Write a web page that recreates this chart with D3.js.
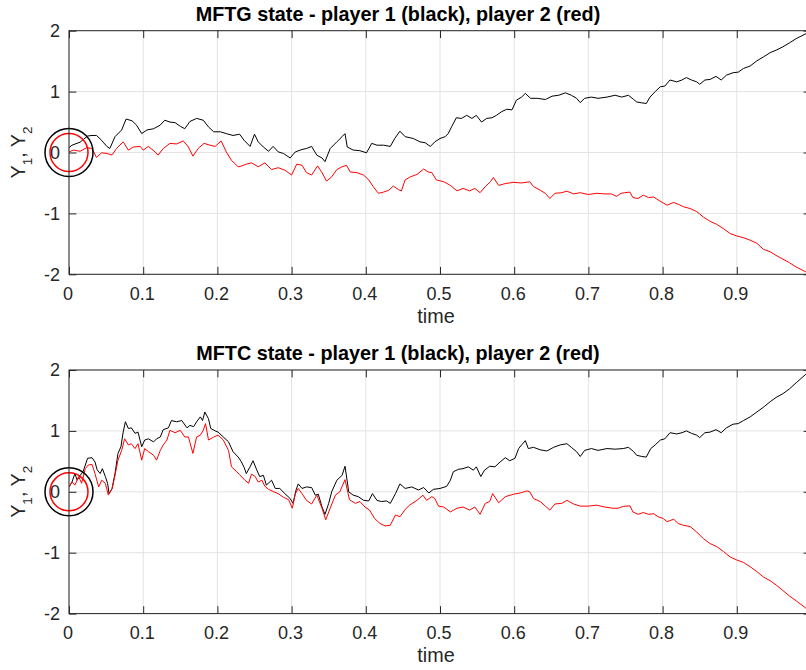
<!DOCTYPE html>
<html>
<head>
<meta charset="utf-8">
<script src="https://cdn.jsdelivr.net/npm/d3@7"></script>
<style>
  html, body { margin: 0; padding: 0; background: #fff; overflow: hidden; }
  svg { display: block; font-family: "Liberation Sans", Arial, Helvetica, sans-serif; }
</style>
</head>
<body>
<svg id="chart" width="806" height="670"></svg>
<script>
// State trajectories [time, value] for the two game settings
const mftgPlayer1 = [[0,0.08],[0.004,0.12],[0.015,0.17],[0.02,0.22],[0.025,0.27],[0.031,0.28],[0.037,0.28],[0.044,0.2],[0.046,0.17],[0.051,0.1],[0.055,0.065],[0.062,0.26],[0.071,0.37],[0.077,0.55],[0.085,0.52],[0.091,0.45],[0.098,0.31],[0.105,0.37],[0.114,0.39],[0.123,0.45],[0.129,0.53],[0.136,0.5],[0.143,0.49],[0.15,0.43],[0.156,0.39],[0.163,0.51],[0.172,0.56],[0.181,0.53],[0.188,0.42],[0.195,0.34],[0.204,0.34],[0.212,0.31],[0.221,0.28],[0.23,0.3],[0.236,0.2],[0.244,0.1],[0.25,0.3],[0.255,0.175],[0.262,0.09],[0.269,0.02],[0.275,0.1],[0.282,0.01],[0.289,-0.016],[0.298,-0.09],[0.305,0.01],[0.314,0.05],[0.32,0.065],[0.327,0.1],[0.334,-0.044],[0.341,-0.09],[0.345,-0.15],[0.352,0.065],[0.361,0.175],[0.368,0.26],[0.372,0.31],[0.375,0.09],[0.383,0.04],[0.392,0.03],[0.401,-0.005],[0.408,0.15],[0.415,0.12],[0.424,0.12],[0.433,0.1],[0.439,0.23],[0.446,0.35],[0.453,0.26],[0.464,0.23],[0.473,0.175],[0.48,0.16],[0.487,0.1],[0.493,0.175],[0.5,0.23],[0.507,0.26],[0.511,0.31],[0.516,0.43],[0.522,0.57],[0.529,0.56],[0.536,0.61],[0.543,0.56],[0.549,0.61],[0.556,0.5],[0.563,0.56],[0.57,0.57],[0.576,0.61],[0.583,0.67],[0.59,0.71],[0.597,0.7],[0.603,0.86],[0.61,0.91],[0.615,0.97],[0.622,0.89],[0.631,0.89],[0.642,0.87],[0.651,0.925],[0.66,0.94],[0.669,0.98],[0.677,0.94],[0.684,0.89],[0.689,0.82],[0.695,0.89],[0.704,0.91],[0.713,0.89],[0.725,0.91],[0.736,0.94],[0.745,0.91],[0.754,0.94],[0.761,0.87],[0.765,0.83],[0.772,0.815],[0.778,0.805],[0.783,0.91],[0.79,1.0],[0.797,1.08],[0.803,1.09],[0.81,1.19],[0.819,1.16],[0.826,1.19],[0.832,1.23],[0.839,1.19],[0.846,1.16],[0.85,1.12],[0.857,1.19],[0.864,1.2],[0.872,1.25],[0.879,1.19],[0.886,1.27],[0.895,1.31],[0.902,1.32],[0.909,1.38],[0.918,1.42],[0.927,1.505],[0.936,1.57],[0.945,1.64],[0.953,1.68],[0.962,1.735],[0.971,1.8],[0.98,1.87],[0.993,1.95],[1,1.99]];

const mftgPlayer2 = [[0,0.01],[0.006,0.04],[0.015,0.02],[0.024,0.08],[0.031,0.065],[0.037,-0.08],[0.044,-0.005],[0.051,-0.016],[0.058,-0.04],[0.064,0.065],[0.073,0.175],[0.08,0.04],[0.087,0.09],[0.096,0.1],[0.1,0.04],[0.107,0.1],[0.116,0.01],[0.12,-0.044],[0.127,0.065],[0.136,0.15],[0.145,0.14],[0.154,0.19],[0.161,0.09],[0.167,-0.06],[0.174,0.065],[0.182,0.15],[0.19,0.12],[0.197,0.1],[0.205,0.19],[0.212,0.01],[0.219,-0.13],[0.228,-0.235],[0.233,-0.22],[0.239,-0.19],[0.246,-0.17],[0.255,-0.235],[0.264,-0.17],[0.273,-0.28],[0.282,-0.25],[0.291,-0.29],[0.3,-0.37],[0.307,-0.19],[0.314,-0.21],[0.32,-0.33],[0.327,-0.37],[0.335,-0.22],[0.341,-0.33],[0.347,-0.47],[0.354,-0.4],[0.361,-0.28],[0.368,-0.235],[0.374,-0.21],[0.379,-0.32],[0.388,-0.33],[0.397,-0.37],[0.404,-0.45],[0.41,-0.56],[0.417,-0.67],[0.424,-0.65],[0.431,-0.62],[0.437,-0.55],[0.444,-0.61],[0.448,-0.63],[0.453,-0.45],[0.46,-0.4],[0.469,-0.36],[0.478,-0.27],[0.484,-0.32],[0.489,-0.33],[0.495,-0.45],[0.505,-0.48],[0.514,-0.54],[0.523,-0.63],[0.531,-0.59],[0.54,-0.63],[0.547,-0.59],[0.554,-0.66],[0.561,-0.56],[0.568,-0.48],[0.572,-0.41],[0.579,-0.54],[0.588,-0.51],[0.599,-0.49],[0.61,-0.5],[0.621,-0.48],[0.626,-0.56],[0.635,-0.62],[0.642,-0.67],[0.648,-0.755],[0.655,-0.67],[0.664,-0.66],[0.671,-0.635],[0.68,-0.68],[0.689,-0.66],[0.7,-0.69],[0.711,-0.67],[0.722,-0.68],[0.731,-0.68],[0.738,-0.72],[0.744,-0.67],[0.749,-0.66],[0.756,-0.65],[0.76,-0.74],[0.767,-0.755],[0.774,-0.7],[0.781,-0.74],[0.788,-0.73],[0.794,-0.78],[0.801,-0.83],[0.806,-0.865],[0.815,-0.82],[0.821,-0.85],[0.828,-0.89],[0.837,-0.92],[0.846,-0.97],[0.855,-1.06],[0.864,-1.13],[0.873,-1.18],[0.882,-1.25],[0.891,-1.33],[0.9,-1.37],[0.909,-1.4],[0.918,-1.44],[0.927,-1.49],[0.936,-1.59],[0.945,-1.63],[0.953,-1.69],[0.962,-1.75],[0.971,-1.81],[0.98,-1.88],[0.993,-1.96],[1,-2.0]];

const mftcPlayer1 = [[0,0.08],[0.004,0.16],[0.008,0.3],[0.011,0.19],[0.015,0.27],[0.019,0.33],[0.025,0.55],[0.031,0.56],[0.035,0.49],[0.038,0.36],[0.042,0.3],[0.045,0.38],[0.049,0.25],[0.052,0.14],[0.054,-0.03],[0.058,0.05],[0.062,0.3],[0.066,0.63],[0.07,0.74],[0.073,0.98],[0.076,1.15],[0.08,1.04],[0.084,1.05],[0.089,0.96],[0.093,0.98],[0.098,0.74],[0.102,0.85],[0.107,0.87],[0.114,0.82],[0.118,0.87],[0.123,0.9],[0.127,1.02],[0.134,1.05],[0.138,1.17],[0.145,1.15],[0.152,1.17],[0.159,1.05],[0.163,1.09],[0.168,1.07],[0.172,1.15],[0.177,1.23],[0.18,1.17],[0.183,1.31],[0.188,1.2],[0.191,1.04],[0.197,1.0],[0.201,0.98],[0.208,0.9],[0.215,0.82],[0.221,0.66],[0.228,0.57],[0.232,0.5],[0.236,0.4],[0.239,0.3],[0.244,0.41],[0.248,0.51],[0.253,0.36],[0.257,0.25],[0.262,0.27],[0.266,0.11],[0.273,0.19],[0.278,0.055],[0.284,0.055],[0.291,-0.03],[0.298,-0.11],[0.302,-0.19],[0.306,0.03],[0.309,0.13],[0.314,0.055],[0.32,0.08],[0.327,0.07],[0.332,-0.055],[0.336,-0.04],[0.341,-0.25],[0.345,-0.37],[0.35,-0.19],[0.354,0.0],[0.361,0.19],[0.368,0.27],[0.372,0.42],[0.377,0.0],[0.383,-0.055],[0.39,-0.08],[0.397,-0.14],[0.404,-0.15],[0.409,-0.03],[0.415,-0.14],[0.421,-0.16],[0.428,-0.15],[0.433,-0.19],[0.44,-0.03],[0.446,0.13],[0.453,0.055],[0.462,0.08],[0.471,0.03],[0.478,0.07],[0.485,-0.02],[0.491,0.04],[0.5,0.055],[0.509,0.09],[0.514,0.19],[0.518,0.33],[0.525,0.37],[0.531,0.38],[0.538,0.41],[0.545,0.355],[0.549,0.41],[0.555,0.25],[0.56,0.355],[0.567,0.42],[0.574,0.41],[0.581,0.49],[0.588,0.56],[0.594,0.51],[0.601,0.55],[0.606,0.71],[0.61,0.77],[0.615,0.84],[0.619,0.71],[0.626,0.73],[0.635,0.69],[0.644,0.67],[0.653,0.73],[0.662,0.77],[0.671,0.79],[0.677,0.73],[0.684,0.66],[0.689,0.58],[0.695,0.68],[0.704,0.71],[0.713,0.68],[0.725,0.71],[0.736,0.7],[0.747,0.71],[0.754,0.73],[0.761,0.66],[0.765,0.6],[0.772,0.58],[0.778,0.57],[0.784,0.71],[0.79,0.77],[0.797,0.85],[0.803,0.87],[0.81,0.97],[0.819,0.95],[0.826,0.97],[0.832,1.0],[0.839,0.96],[0.846,0.93],[0.85,0.89],[0.857,0.97],[0.864,0.98],[0.872,1.02],[0.879,0.97],[0.886,1.05],[0.895,1.11],[0.902,1.12],[0.909,1.17],[0.918,1.23],[0.927,1.31],[0.936,1.39],[0.945,1.48],[0.953,1.55],[0.962,1.61],[0.971,1.69],[0.98,1.79],[0.993,1.93],[1,1.98]];

const mftcPlayer2 = [[0,0.08],[0.004,0.16],[0.008,0.11],[0.013,0.25],[0.017,0.14],[0.022,0.38],[0.026,0.44],[0.031,0.45],[0.035,0.3],[0.04,0.08],[0.044,0.19],[0.049,0.14],[0.053,-0.055],[0.058,0.05],[0.062,0.27],[0.066,0.52],[0.071,0.68],[0.075,0.87],[0.08,0.77],[0.084,0.79],[0.089,0.71],[0.093,0.79],[0.098,0.52],[0.102,0.71],[0.107,0.66],[0.114,0.6],[0.118,0.52],[0.123,0.68],[0.127,0.77],[0.132,0.85],[0.136,1.01],[0.143,0.97],[0.15,1.01],[0.156,0.9],[0.161,0.9],[0.167,0.63],[0.172,0.9],[0.177,0.93],[0.181,1.01],[0.184,1.12],[0.188,0.85],[0.195,0.9],[0.201,0.93],[0.208,0.85],[0.215,0.68],[0.219,0.41],[0.226,0.33],[0.23,0.28],[0.237,0.19],[0.242,0.14],[0.246,0.29],[0.251,0.25],[0.255,0.16],[0.26,0.19],[0.264,0.09],[0.269,0.04],[0.276,0.0],[0.282,-0.03],[0.289,-0.09],[0.296,-0.13],[0.301,-0.27],[0.305,-0.03],[0.309,0.055],[0.314,-0.03],[0.32,-0.14],[0.327,-0.2],[0.334,-0.055],[0.341,-0.27],[0.346,-0.46],[0.352,-0.27],[0.359,-0.055],[0.365,0.0],[0.372,0.2],[0.378,-0.13],[0.386,-0.19],[0.392,-0.16],[0.399,-0.25],[0.405,-0.3],[0.412,-0.44],[0.419,-0.52],[0.426,-0.56],[0.433,-0.55],[0.44,-0.38],[0.446,-0.41],[0.453,-0.29],[0.459,-0.22],[0.469,-0.14],[0.477,-0.055],[0.482,-0.14],[0.489,-0.08],[0.493,-0.11],[0.498,-0.235],[0.505,-0.25],[0.514,-0.33],[0.523,-0.27],[0.531,-0.25],[0.54,-0.3],[0.547,-0.25],[0.554,-0.37],[0.561,-0.19],[0.567,-0.16],[0.571,-0.03],[0.579,-0.18],[0.588,-0.08],[0.599,-0.04],[0.608,-0.02],[0.617,0.015],[0.621,0.0],[0.626,-0.11],[0.635,-0.16],[0.642,-0.235],[0.648,-0.3],[0.655,-0.2],[0.664,-0.19],[0.671,-0.14],[0.68,-0.2],[0.689,-0.235],[0.7,-0.235],[0.711,-0.22],[0.722,-0.25],[0.733,-0.27],[0.74,-0.27],[0.747,-0.24],[0.756,-0.23],[0.76,-0.33],[0.767,-0.37],[0.774,-0.34],[0.781,-0.37],[0.788,-0.36],[0.794,-0.41],[0.801,-0.44],[0.806,-0.49],[0.815,-0.45],[0.821,-0.52],[0.828,-0.55],[0.837,-0.57],[0.846,-0.66],[0.855,-0.77],[0.864,-0.85],[0.873,-0.9],[0.882,-0.98],[0.891,-1.07],[0.9,-1.12],[0.909,-1.16],[0.918,-1.23],[0.927,-1.31],[0.936,-1.4],[0.945,-1.46],[0.953,-1.53],[0.962,-1.62],[0.971,-1.71],[0.98,-1.79],[0.993,-1.91],[1,-1.96]];

// Axis ticks and labels
const xTicks = [0, 0.1, 0.2, 0.3, 0.4, 0.5, 0.6, 0.7, 0.8, 0.9, 1];
const xTickLabels = ["0", "0.1", "0.2", "0.3", "0.4", "0.5", "0.6", "0.7", "0.8", "0.9", "1"];
const yTicks = [-2, -1, 0, 1, 2];
const yTickLabels = ["-2", "-1", "0", "1", "2"];
const panelTitles = ["MFTG state - player 1 (black), player 2 (red)", "MFTC state - player 1 (black), player 2 (red)"];
const xLabel = "time";

const svg = d3.select("#chart");
const textColor = "#262626";
const plotLeft = 69, plotRight = 811, plotHeight = 243.6;
const tickLen = 7.4;
const tickFont = "18px", labelFont = "19.8px";

const x = d3.scaleLinear().domain([0, 1]).range([plotLeft, plotRight]);

function drawPanel(idx, top, player1, player2) {
  const bottom = top + plotHeight;
  const y = d3.scaleLinear().domain([-2, 2]).range([bottom, top]);
  const g = svg.append("g");

  const clipId = "clip" + idx;
  svg.append("clipPath").attr("id", clipId)
    .append("rect").attr("x", plotLeft).attr("y", top)
    .attr("width", plotRight - plotLeft).attr("height", plotHeight);

  // grid
  g.append("g").selectAll("line").data(xTicks).join("line")
    .attr("x1", d => x(d)).attr("x2", d => x(d))
    .attr("y1", top).attr("y2", bottom)
    .attr("stroke", "#e3e3e3").attr("stroke-width", 1);
  g.append("g").selectAll("line").data(yTicks).join("line")
    .attr("x1", plotLeft).attr("x2", plotRight)
    .attr("y1", d => y(d)).attr("y2", d => y(d))
    .attr("stroke", "#e3e3e3").attr("stroke-width", 1);

  // trajectories
  const line = d3.line().x(d => x(d[0])).y(d => y(d[1]));
  const lines = g.append("g").attr("clip-path", `url(#${clipId})`);
  lines.append("path").datum(player1).attr("d", line)
    .attr("fill", "none").attr("stroke", "#000").attr("stroke-width", 1)
    .attr("stroke-linejoin", "round");
  lines.append("path").datum(player2).attr("d", line)
    .attr("fill", "none").attr("stroke", "#ff0000").attr("stroke-width", 1)
    .attr("stroke-linejoin", "round");

  // initial-state markers
  g.append("circle").attr("cx", x(0)).attr("cy", y(0)).attr("r", 24)
    .attr("fill", "none").attr("stroke", "#000").attr("stroke-width", 1.5);
  g.append("circle").attr("cx", x(0)).attr("cy", y(0)).attr("r", 19)
    .attr("fill", "none").attr("stroke", "#ff0000").attr("stroke-width", 1.5);

  // axes (ticks pointing inward)
  const fmtX = d => xTickLabels[xTicks.indexOf(d)];
  const fmtY = d => yTickLabels[yTicks.indexOf(d)];
  const axB = g.append("g").attr("transform", `translate(0,${bottom})`)
    .call(d3.axisBottom(x).tickValues(xTicks.slice(0, 10)).tickFormat(fmtX).tickSize(-tickLen).tickPadding(12.6));
  const axT = g.append("g").attr("transform", `translate(0,${top})`)
    .call(d3.axisTop(x).tickValues(xTicks).tickFormat("").tickSize(-tickLen));
  const axL = g.append("g").attr("transform", `translate(${plotLeft},0)`)
    .call(d3.axisLeft(y).tickValues(yTicks).tickFormat(fmtY).tickSize(-tickLen).tickPadding(9));
  const axR = g.append("g").attr("transform", `translate(${plotRight},0)`)
    .call(d3.axisRight(y).tickValues(yTicks).tickFormat("").tickSize(-tickLen));
  [axB, axT, axL, axR].forEach(a => {
    a.select(".domain").remove();
    a.selectAll(".tick line").attr("stroke", textColor).attr("stroke-width", 1);
    a.selectAll(".tick text").attr("fill", textColor)
      .style("font-size", tickFont).style("font-family", "'Liberation Sans', Arial, sans-serif");
  });
  axB.selectAll(".tick text").attr("x", -1.5);

  // axis box
  g.append("rect").attr("x", plotLeft).attr("y", top)
    .attr("width", plotRight - plotLeft).attr("height", plotHeight)
    .attr("fill", "none").attr("stroke", textColor).attr("stroke-width", 1);

  // title
  g.append("text").attr("x", 398).attr("y", top - 10)
    .attr("text-anchor", "middle").attr("fill", "#000")
    .style("font-size", labelFont).style("font-weight", "bold")
    .text(panelTitles[idx]);

  // x label
  g.append("text").attr("x", 436).attr("y", bottom + 48.7)
    .attr("text-anchor", "middle").attr("fill", textColor)
    .style("font-size", labelFont).text(xLabel);

  // y label with subscripts
  const yl = g.append("text")
    .attr("transform", `translate(25,${(top + bottom) / 2}) rotate(-90)`)
    .attr("text-anchor", "middle").attr("fill", textColor)
    .style("font-size", labelFont);
  yl.append("tspan").text("Y");
  yl.append("tspan").attr("dy", 7).style("font-size", "13.5px").text("1");
  yl.append("tspan").attr("dy", -7).text(", Y");
  yl.append("tspan").attr("dy", 7).style("font-size", "13.5px").text("2");
}

drawPanel(0, 30.7, mftgPlayer1, mftgPlayer2);
drawPanel(1, 370, mftcPlayer1, mftcPlayer2);
</script>
</body>
</html>
